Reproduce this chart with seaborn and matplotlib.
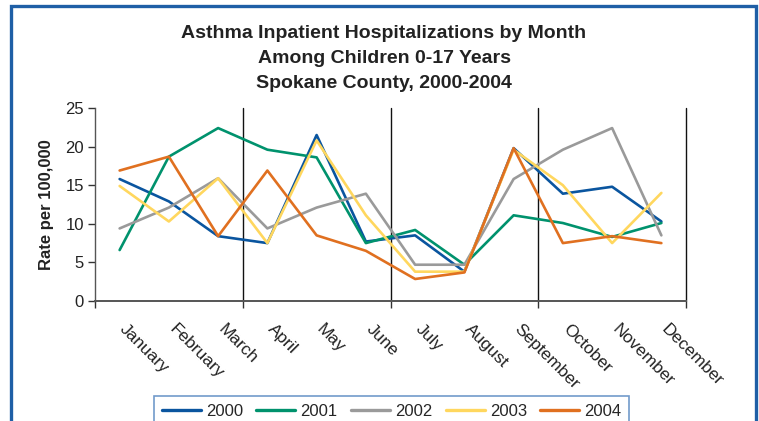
import numpy as np
import pandas as pd
import matplotlib
matplotlib.use("Agg")
import matplotlib.pyplot as plt
import matplotlib.transforms as mtransforms
import seaborn as sns
from matplotlib.patches import Rectangle

# Données (taux pour 100 000)
months = ["January", "February", "March", "April", "May", "June", "July",
          "August", "September", "October", "November", "December"]
years = ["2000", "2001", "2002", "2003", "2004"]
rate_2000 = [15.8, 12.9, 8.4, 7.5, 21.5, 7.7, 8.5, 3.8, 19.8, 13.9, 14.8, 10.3]
rate_2001 = [6.6, 18.7, 22.4, 19.6, 18.6, 7.5, 9.2, 4.7, 11.1, 10.1, 8.3, 10.1]
rate_2002 = [9.4, 12.1, 15.9, 9.4, 12.1, 13.9, 4.7, 4.7, 15.8, 19.6, 22.4, 8.5]
rate_2003 = [14.9, 10.3, 15.9, 7.5, 20.8, 11.1, 3.8, 3.8, 19.6, 15.0, 7.5, 14.0]
rate_2004 = [16.9, 18.7, 8.4, 16.9, 8.5, 6.5, 2.85, 3.7, 19.8, 7.5, 8.4, 7.5]
colors = ["#0a559f", "#00926d", "#9a9a9a", "#ffd75e", "#e07020"]

df = pd.DataFrame({"month": months * 5,
                   "year": np.repeat(years, 12),
                   "rate": rate_2000 + rate_2001 + rate_2002 + rate_2003 + rate_2004})

sns.set_style("white")
plt.rcParams["font.family"] = ["Liberation Sans", "DejaVu Sans"]

fig = plt.figure(figsize=(7.59, 4.21), dpi=100)
ax = fig.add_axes([95 / 759, 1 - 301 / 421, (686 - 95) / 759, (301 - 108) / 421])

sns.lineplot(data=df, x="month", y="rate", hue="year", palette=colors,
             linewidth=1.9, ax=ax, sort=False, zorder=3)

# lignes verticales par trimestre
for xv in [2.5, 5.5, 8.5, 11.5]:
    ax.axvline(xv, color="#111111", lw=1.0, zorder=1, clip_on=False)

ax.set_xlim(-0.5, 11.5)
ax.set_ylim(0, 25)
ax.set_yticks([0, 5, 10, 15, 20, 25])
ax.tick_params(axis="y", labelsize=12, length=5, width=1, color="#333333",
               labelcolor="#222222", pad=3, left=True)
ax.set_xticks(range(12))
ax.set_xticklabels(months, rotation=-45, ha="left", va="top",
                   rotation_mode="anchor", fontsize=12.5, color="#222222")
ax.tick_params(axis="x", which="major", length=0, pad=15)
# décaler les étiquettes un peu vers la droite
offset = mtransforms.ScaledTranslation(8 / 100, 0, fig.dpi_scale_trans)
for lbl in ax.get_xticklabels():
    lbl.set_transform(lbl.get_transform() + offset)
ax.set_xticks([-0.5, 2.5, 5.5, 8.5, 11.5], minor=True)
ax.tick_params(axis="x", which="minor", length=5, width=1, color="#333333",
               bottom=True)

for s in ["top", "right"]:
    ax.spines[s].set_visible(False)
ax.spines["left"].set_color("#555555")
ax.spines["bottom"].set_color("#555555")
ax.spines["left"].set_linewidth(1.0)
ax.spines["bottom"].set_linewidth(1.4)

ax.set_xlabel("")
ax.set_ylabel("Rate per 100,000", fontsize=12, fontweight="bold",
              color="#222222", labelpad=8)

title_lines = ["Asthma Inpatient Hospitalizations by Month",
               "Among Children 0-17 Years",
               "Spokane County, 2000-2004"]
for i, line in enumerate(title_lines):
    fig.text(384 / 759, 1 - (33 + 25.5 * i) / 421, line, ha="center",
             va="center", fontsize=14, fontweight="bold", color="#222222")

ax.get_legend().remove()
handles, labels = ax.get_legend_handles_labels()
leg = fig.legend(handles, labels, loc="upper left",
                 bbox_to_anchor=(154 / 759, 1 - 396 / 421), ncol=5,
                 fontsize=12, frameon=True, fancybox=False,
                 handlelength=2.35, handletextpad=0.3, columnspacing=0.8,
                 borderpad=0.45, borderaxespad=0)
leg.get_frame().set_edgecolor("#4f81bd")
leg.get_frame().set_linewidth(1.2)
for h in leg.get_lines():
    h.set_linewidth(2.4)

# cadre bleu autour du graphique
fig.patches.append(Rectangle((10.5 / 759, -0.1), (755.5 - 10.5) / 759,
                             1.1 - 6 / 421, transform=fig.transFigure,
                             fill=False, edgecolor="#1f5fa6", lw=2.4))

fig.savefig("out.png", dpi=100)
